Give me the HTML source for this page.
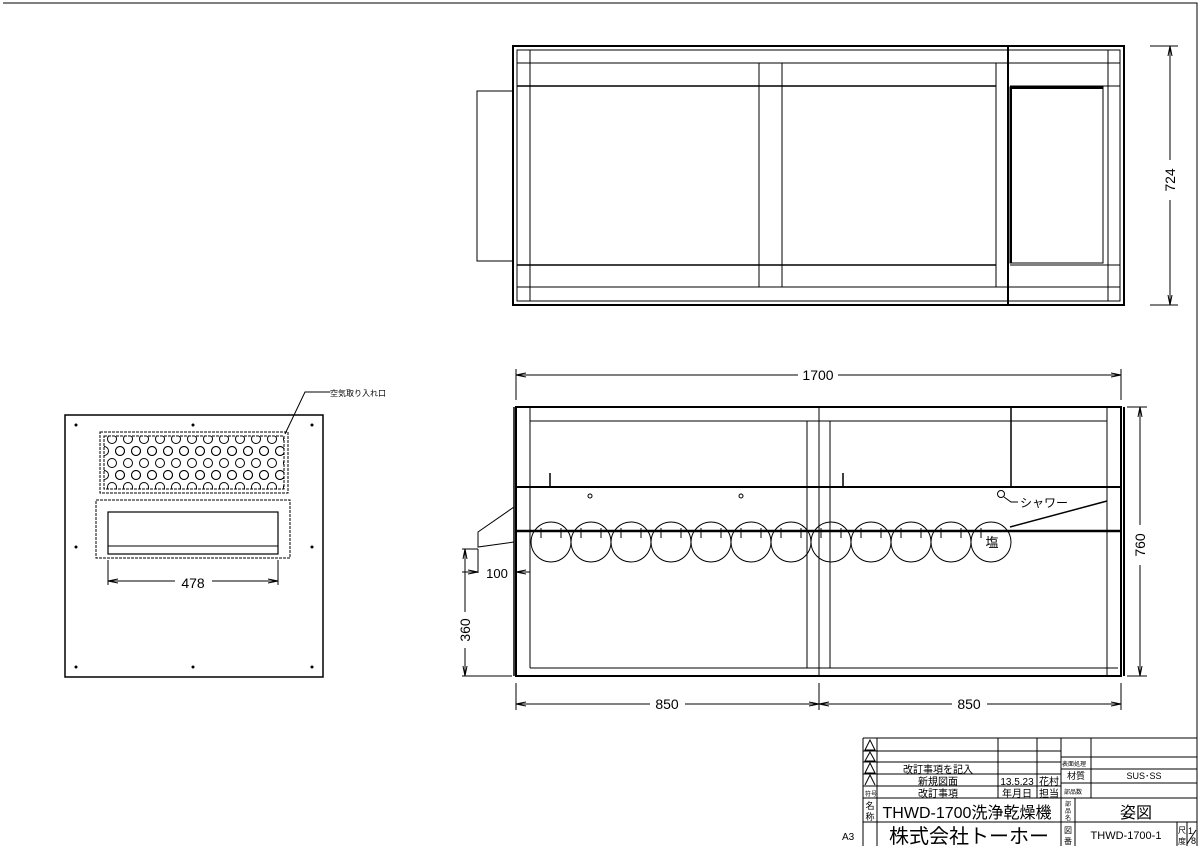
<!DOCTYPE html>
<html><head><meta charset="utf-8"><style>
html,body{margin:0;padding:0;background:#fff}
svg{display:block}
text{font-family:"Liberation Sans","Noto Sans CJK JP",sans-serif;fill:#000}
</style></head><body>
<svg width="1200" height="848" viewBox="0 0 1200 848" xmlns="http://www.w3.org/2000/svg">
<defs>
<marker id="a" viewBox="0 0 10 6" refX="10" refY="3" markerWidth="10" markerHeight="6" orient="auto-start-reverse" markerUnits="userSpaceOnUse"><path d="M0,1 L10,3 L0,5" fill="none" stroke="#000"/></marker>
<clipPath id="perf"><rect x="104" y="436" width="180" height="53"/></clipPath>
</defs>
<rect x="0" y="0" width="1200" height="848" fill="#fff"/>
<g stroke="#000" fill="none" stroke-width="1">
<!-- frame -->
<path d="M3,3 H1197 V846"/>

<!-- TOP VIEW -->
<rect x="513" y="46" width="611" height="259" stroke-width="2"/>
<rect x="517" y="50" width="603" height="251"/>
<line x1="1008" y1="46" x2="1008" y2="305" stroke-width="2"/>
<line x1="517" y1="63" x2="1120" y2="63"/>
<line x1="517" y1="287" x2="1120" y2="287"/>
<line x1="517" y1="86" x2="996" y2="86" stroke-width="1.5"/>
<line x1="517" y1="265" x2="996" y2="265" stroke-width="1.5"/>
<line x1="530" y1="50" x2="530" y2="301"/>
<line x1="759" y1="63" x2="759" y2="287"/>
<line x1="782" y1="63" x2="782" y2="287"/>
<line x1="996" y1="63" x2="996" y2="287"/>
<line x1="1108" y1="50" x2="1108" y2="301"/>
<line x1="1010" y1="86" x2="1120" y2="86"/>
<line x1="1010" y1="265" x2="1120" y2="265"/>
<rect x="1010" y="87" width="93" height="176" stroke-width="1"/>
<line x1="1011" y1="87" x2="1011" y2="263" stroke-width="2"/>
<line x1="1011" y1="88" x2="1103" y2="88" stroke-width="2"/>
<rect x="477" y="91" width="36" height="170"/>
<!-- 724 dim -->
<line x1="1150" y1="46" x2="1178" y2="46"/>
<line x1="1150" y1="305" x2="1178" y2="305"/>
<line x1="1170" y1="46" x2="1170" y2="160" marker-start="url(#a)"/>
<line x1="1170" y1="200" x2="1170" y2="305" marker-end="url(#a)"/>

<!-- FRONT VIEW -->
<rect x="516" y="407" width="605" height="269" stroke-width="2"/>
<line x1="514" y1="407" x2="514" y2="676" stroke-width="1.5"/>
<line x1="1124" y1="407" x2="1124" y2="676" stroke-width="2"/>
<line x1="530" y1="407" x2="530" y2="668"/>
<line x1="530" y1="421" x2="1107" y2="421"/>
<line x1="530" y1="668" x2="1118" y2="668"/>
<line x1="516" y1="487" x2="1121" y2="487" stroke-width="2"/>
<line x1="516" y1="531" x2="1121" y2="531" stroke-width="2.5"/>
<line x1="807" y1="421" x2="807" y2="668"/>
<line x1="819" y1="407" x2="819" y2="676"/>
<line x1="830" y1="421" x2="830" y2="668"/>
<line x1="1011" y1="407" x2="1011" y2="487" stroke-width="1.5"/>
<line x1="1107" y1="407" x2="1107" y2="676"/>
<line x1="550" y1="473" x2="550" y2="487" stroke-width="1.5"/>
<line x1="843" y1="473" x2="843" y2="487" stroke-width="1.5"/>
<circle cx="590" cy="496" r="2"/>
<circle cx="741" cy="496" r="2"/>
<circle cx="1001" cy="494" r="3.5"/>
<path d="M1004,497 L1011,502 H1018"/>
<line x1="1107" y1="501" x2="1010" y2="527" stroke-width="1.5"/>
<path d="M514,507 L478,532 L478,547 L514,542"/>
<g>
<circle cx="551" cy="542" r="20"/><circle cx="591" cy="542" r="20"/><circle cx="631" cy="542" r="20"/><circle cx="671" cy="542" r="20"/><circle cx="711" cy="542" r="20"/><circle cx="751" cy="542" r="20"/><circle cx="791" cy="542" r="20"/><circle cx="831" cy="542" r="20"/><circle cx="871" cy="542" r="20"/><circle cx="911" cy="542" r="20"/><circle cx="951" cy="542" r="20"/><circle cx="991" cy="542" r="20"/>
</g>
<path d="M541,528V538 M561,528V538 M581,528V538 M601,528V538 M621,528V538 M641,528V538 M661,528V538 M681,528V538 M701,528V538 M721,528V538 M741,528V538 M761,528V538 M781,528V538 M801,528V538 M821,528V538 M841,528V538 M861,528V538 M881,528V538 M901,528V538 M921,528V538 M941,528V538 M961,528V538 M981,528V538"/>
<!-- 1700 dim -->
<line x1="516" y1="369" x2="516" y2="400"/>
<line x1="1121" y1="369" x2="1121" y2="400"/>
<line x1="516" y1="375" x2="798" y2="375" marker-start="url(#a)"/>
<line x1="838" y1="375" x2="1121" y2="375" marker-end="url(#a)"/>
<!-- 760 dim -->
<line x1="1127" y1="407" x2="1147" y2="407"/>
<line x1="1127" y1="676" x2="1147" y2="676"/>
<line x1="1140" y1="407" x2="1140" y2="525" marker-start="url(#a)"/>
<line x1="1140" y1="565" x2="1140" y2="676" marker-end="url(#a)"/>
<!-- 360 dim -->
<line x1="462" y1="549" x2="478" y2="549"/>
<line x1="462" y1="676" x2="512" y2="676"/>
<line x1="465" y1="549" x2="465" y2="612" marker-start="url(#a)"/>
<line x1="465" y1="648" x2="465" y2="676" marker-end="url(#a)"/>
<!-- 100 dim -->
<line x1="478" y1="549" x2="478" y2="573"/>
<line x1="462" y1="572" x2="478" y2="572" marker-end="url(#a)"/>
<line x1="530" y1="572" x2="516" y2="572" marker-end="url(#a)"/>
<!-- 850 dims -->
<line x1="516" y1="683" x2="516" y2="710"/>
<line x1="819" y1="683" x2="819" y2="710"/>
<line x1="1121" y1="683" x2="1121" y2="710"/>
<line x1="516" y1="704" x2="650" y2="704" marker-start="url(#a)"/>
<line x1="685" y1="704" x2="819" y2="704" marker-end="url(#a)"/>
<line x1="819" y1="704" x2="952" y2="704" marker-start="url(#a)"/>
<line x1="987" y1="704" x2="1121" y2="704" marker-end="url(#a)"/>

<!-- SIDE VIEW -->
<rect x="65" y="415" width="258" height="262" stroke-width="1.5"/>
<rect x="100" y="432" width="188" height="61" stroke-dasharray="3,1"/>
<rect x="104" y="436" width="180" height="53" stroke-dasharray="3,1"/>
<g clip-path="url(#perf)" stroke-width="1">
<g id="r1"><circle cx="112" cy="439" r="4.5"/><circle cx="128" cy="439" r="4.5"/><circle cx="144" cy="439" r="4.5"/><circle cx="160" cy="439" r="4.5"/><circle cx="176" cy="439" r="4.5"/><circle cx="192" cy="439" r="4.5"/><circle cx="208" cy="439" r="4.5"/><circle cx="224" cy="439" r="4.5"/><circle cx="240" cy="439" r="4.5"/><circle cx="256" cy="439" r="4.5"/><circle cx="272" cy="439" r="4.5"/><circle cx="288" cy="439" r="4.5"/></g>
<use href="#r1" transform="translate(8,12)"/>
<use href="#r1" transform="translate(0,24)"/>
<use href="#r1" transform="translate(8,36)"/>
<use href="#r1" transform="translate(0,48)"/>
<use href="#r1" transform="translate(-8,12)"/>
<use href="#r1" transform="translate(-8,36)"/>
</g>
<rect x="96" y="500" width="194" height="58" stroke-dasharray="3,1"/>
<rect x="108" y="512" width="170" height="42" stroke-width="1.2"/>
<line x1="108" y1="546" x2="278" y2="546"/>
<line x1="108" y1="560" x2="108" y2="585"/>
<line x1="278" y1="560" x2="278" y2="585"/>
<line x1="108" y1="581" x2="175" y2="581" marker-start="url(#a)"/>
<line x1="212" y1="581" x2="278" y2="581" marker-end="url(#a)"/>
<path d="M285,434 L305,392 H330"/>
</g>
<g fill="#000">
<circle cx="76" cy="425" r="1.5"/><circle cx="193" cy="425" r="1.5"/><circle cx="312" cy="425" r="1.5"/>
<circle cx="76" cy="547" r="1.5"/><circle cx="312" cy="547" r="1.5"/>
<circle cx="76" cy="667" r="1.5"/><circle cx="193" cy="667" r="1.5"/><circle cx="312" cy="667" r="1.5"/>
</g>
<text x="330" y="396" font-size="8">空気取り入れ口</text>
<text x="193" y="588" font-size="14" text-anchor="middle">478</text>
<text x="818" y="380" font-size="14" text-anchor="middle">1700</text>
<text x="667" y="709" font-size="14" text-anchor="middle">850</text>
<text x="969" y="709" font-size="14" text-anchor="middle">850</text>
<text x="497" y="578" font-size="13" text-anchor="middle">100</text>
<text transform="translate(470,630) rotate(-90)" font-size="14" text-anchor="middle">360</text>
<text transform="translate(1145,545) rotate(-90)" font-size="14" text-anchor="middle">760</text>
<text transform="translate(1175,180) rotate(-90)" font-size="14" text-anchor="middle">724</text>
<text x="1020" y="507" font-size="12">シャワー</text>
<text x="992" y="547" font-size="13" text-anchor="middle">塩</text>

<!-- TITLE BLOCK -->
<g stroke="#000" fill="none" stroke-width="1">
<path d="M863,738 H1197 V846 M863,738 V846"/>
<line x1="877" y1="738" x2="877" y2="846"/>
<line x1="998" y1="738" x2="998" y2="798"/>
<line x1="1037" y1="738" x2="1037" y2="798"/>
<line x1="1061" y1="738" x2="1061" y2="846"/>
<line x1="1091" y1="738" x2="1091" y2="798"/>
<line x1="1075" y1="798" x2="1075" y2="846"/>
<line x1="863" y1="751" x2="1061" y2="751"/>
<line x1="863" y1="762" x2="1061" y2="762"/>
<line x1="863" y1="774" x2="1061" y2="774"/>
<line x1="863" y1="786" x2="1061" y2="786"/>
<line x1="1061" y1="757" x2="1197" y2="757"/>
<line x1="1061" y1="769" x2="1197" y2="769"/>
<line x1="1061" y1="783" x2="1197" y2="783"/>
<line x1="863" y1="798" x2="1197" y2="798"/>
<line x1="863" y1="822" x2="1197" y2="822"/>
<line x1="1177" y1="822" x2="1177" y2="846"/>
<line x1="1187" y1="822" x2="1187" y2="846"/>
<path d="M865,750 L870,740 L875,750 Z M865,761 L870,752 L875,761 Z M865,773 L870,763 L875,773 Z M865,785 L870,775 L875,785"/>
</g>
<text x="938" y="773" font-size="10" text-anchor="middle">改訂事項を記入</text>
<text x="938" y="785" font-size="10" text-anchor="middle">新規図面</text>
<text x="938" y="797" font-size="10" text-anchor="middle">改訂事項</text>
<text x="865" y="796" font-size="6">符号</text>
<text x="1017" y="785" font-size="10" text-anchor="middle">13.5.23</text>
<text x="1049" y="785" font-size="10" text-anchor="middle">花村</text>
<text x="1017" y="797" font-size="10" text-anchor="middle">年月日</text>
<text x="1049" y="797" font-size="10" text-anchor="middle">担当</text>
<text x="1062" y="766" font-size="6">表面処理</text>
<text x="1076" y="779" font-size="9" text-anchor="middle">材質</text>
<text x="1144" y="779" font-size="9" text-anchor="middle">SUS･SS</text>
<text x="1064" y="794" font-size="6">部品数</text>
<text x="870" y="809" font-size="9" text-anchor="middle">名</text>
<text x="870" y="820" font-size="9" text-anchor="middle">称</text>
<text x="967" y="818" font-size="16" text-anchor="middle">THWD-1700洗浄乾燥機</text>
<text x="1068" y="806" font-size="6" text-anchor="middle">部</text>
<text x="1068" y="813" font-size="6" text-anchor="middle">品</text>
<text x="1068" y="820" font-size="6" text-anchor="middle">名</text>
<text x="1136" y="818" font-size="16" text-anchor="middle">姿図</text>
<text x="842" y="840" font-size="10">A3</text>
<text x="969" y="843" font-size="20" text-anchor="middle">株式会社トーホー</text>
<text x="1068" y="833" font-size="8" text-anchor="middle">図</text>
<text x="1068" y="844" font-size="8" text-anchor="middle">番</text>
<text x="1126" y="839" font-size="11" text-anchor="middle">THWD-1700-1</text>
<text x="1182" y="833" font-size="8" text-anchor="middle">尺</text>
<text x="1182" y="844" font-size="8" text-anchor="middle">度</text>
<text x="1188" y="834" font-size="9">1</text>
<text x="1191" y="844" font-size="9">8</text>
<line x1="1187" y1="844" x2="1196" y2="830" stroke="#000"/>
</svg>
</body></html>
